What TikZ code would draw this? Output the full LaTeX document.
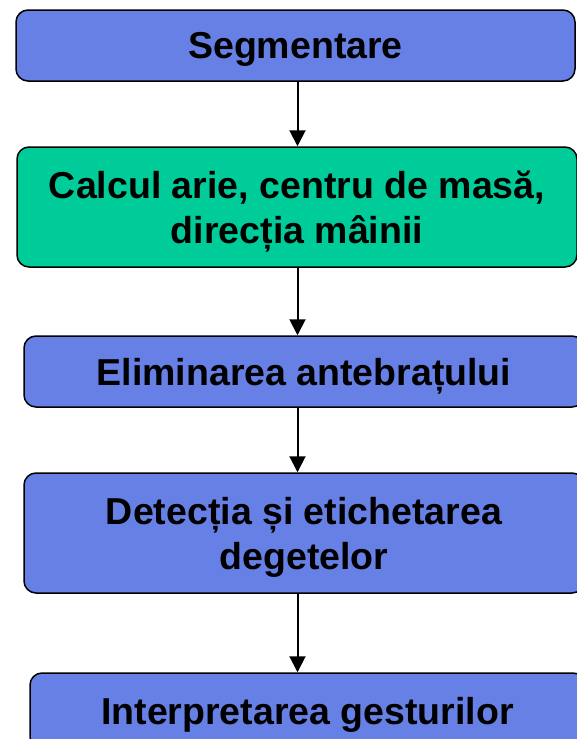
\documentclass[tikz,border=0pt]{standalone}
\usepackage{fontspec}
\setmainfont{Liberation Sans}
\usetikzlibrary{arrows.meta}
\definecolor{boxblue}{RGB}{102,128,230}
\definecolor{boxgreen}{RGB}{0,204,153}
\tikzset{
  stepbox/.style={draw=black, line width=1.5pt, rounded corners=12pt, inner sep=0pt,
    text depth=0pt, align=center, font=\bfseries\fontsize{37.5}{45}\selectfont, text=black},
  bluebox/.style={stepbox, fill=boxblue},
  greenbox/.style={stepbox, fill=boxgreen},
  flow/.style={line width=2pt, -{Triangle[width=16pt,length=16pt]}}
}
\begin{document}
\begin{tikzpicture}[x=1pt,y=-1pt]
\useasboundingbox (0,0) rectangle (577,739);
\node[bluebox, minimum width=559pt, minimum height=71pt] (b1) at (295.5,45.5) {Segmentare};
\node[greenbox, minimum width=560pt, minimum height=120pt] (b2) at (297,207) {Calcul arie, centru de masă,\\direcția mâinii};
\node[bluebox, minimum width=560pt, minimum height=71pt] (b3) at (304,371.5) {Eliminarea antebrațului};
\node[bluebox, minimum width=560pt, minimum height=120pt] (b4) at (304,533) {Detecția și etichetarea\\degetelor};
\node[bluebox, minimum width=555pt, minimum height=76pt] (b5) at (307.5,711) {Interpretarea gesturilor};
\coordinate (ax) at (297.5,0);
\draw[flow] (b1.south -| ax) -- (b2.north -| ax);
\draw[flow] (b2.south -| ax) -- (b3.north -| ax);
\draw[flow] (b3.south -| ax) -- (b4.north -| ax);
\draw[flow] (b4.south -| ax) -- (b5.north -| ax);
\end{tikzpicture}
\end{document}
